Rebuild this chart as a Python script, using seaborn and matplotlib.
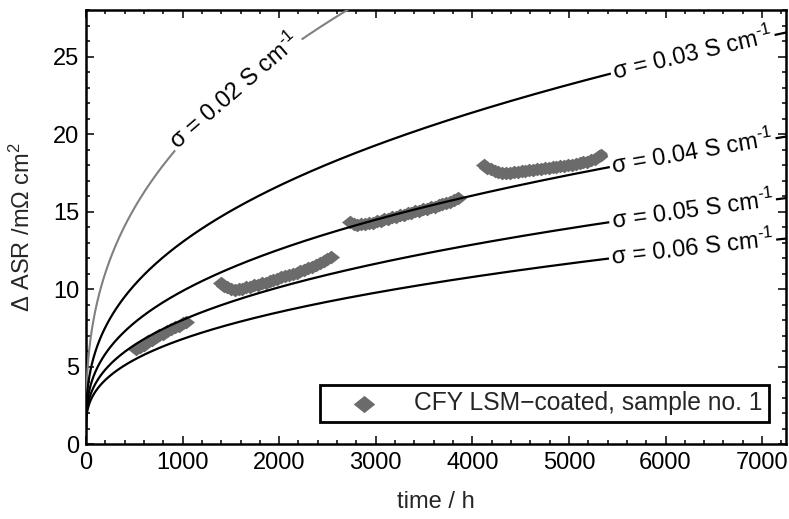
import numpy as np
import pandas as pd
import matplotlib
matplotlib.use("Agg")
import matplotlib.pyplot as plt
import seaborn as sns

# ---- measured area-specific resistance increase, four test campaigns ----
seg1_time = [520, 560, 600, 640, 680, 720, 760, 800, 840, 880, 920, 960, 1000, 1040]
seg1_asr = [6.10, 6.29, 6.40, 6.62, 6.71, 6.90, 7.05, 7.13, 7.31, 7.40, 7.57, 7.64, 7.82, 7.88]

seg2_time = [1400, 1430, 1460, 1500, 1540, 1580, 1620, 1660, 1700, 1740, 1780, 1820,
             1860, 1900, 1940, 1980, 2020, 2060, 2100, 2140, 2180, 2220, 2260, 2300,
             2340, 2380, 2420, 2460, 2500, 2540]
seg2_asr = [10.40, 10.22, 10.12, 9.98, 9.92, 9.99, 10.00, 10.12, 10.13, 10.24, 10.26, 10.38,
            10.41, 10.52, 10.57, 10.68, 10.75, 10.84, 10.90, 11.00, 11.06, 11.17, 11.24, 11.36,
            11.44, 11.58, 11.66, 11.82, 11.92, 12.10]

seg3_time = [2730, 2770, 2810, 2850, 2890, 2930, 2970, 3010, 3050, 3090, 3130, 3170,
             3210, 3250, 3290, 3330, 3370, 3410, 3450, 3490, 3530, 3570, 3610, 3650,
             3690, 3730, 3770, 3810, 3850]
seg3_asr = [14.32, 14.18, 14.15, 14.18, 14.19, 14.26, 14.27, 14.37, 14.39, 14.49, 14.53, 14.62,
            14.66, 14.77, 14.79, 14.90, 14.92, 15.02, 15.04, 15.14, 15.17, 15.28, 15.31, 15.42,
            15.46, 15.57, 15.62, 15.76, 15.85]

seg4_time = [4120, 4150, 4190, 4230, 4270, 4310, 4350, 4390, 4430, 4470, 4510, 4550,
             4590, 4630, 4670, 4710, 4750, 4790, 4830, 4870, 4910, 4950, 4990, 5030,
             5070, 5110, 5150, 5190, 5230, 5270, 5310, 5330]
seg4_asr = [18.00, 17.84, 17.73, 17.60, 17.57, 17.50, 17.51, 17.49, 17.55, 17.54, 17.62, 17.61,
            17.68, 17.69, 17.75, 17.76, 17.82, 17.83, 17.89, 17.89, 17.95, 17.95, 18.02, 18.03,
            18.10, 18.12, 18.20, 18.23, 18.33, 18.41, 18.56, 18.65]

sample_label = "CFY LSM\u2212coated, sample no. 1"

# ---- oxide-scale model: dASR = R0 + A * t**n / sigma**m ----
sigma_values = [0.02, 0.03, 0.04, 0.05, 0.06]
sigma_colors = ["#808080", "black", "black", "black", "black"]
label_times = [1540, 6280, 6280, 6280, 6280]
model_r0 = 1.0
model_a = 0.0212
model_n = 0.38
model_m = 1.06

x_ticks = [0, 1000, 2000, 3000, 4000, 5000, 6000, 7000]
y_ticks = [0, 5, 10, 15, 20, 25]
x_limits = (0, 7250)
y_limits = (0, 28)

sns.set_style("ticks")
plt.rcParams["font.family"] = ["Liberation Sans", "DejaVu Sans"]
plt.rcParams["mathtext.fontset"] = "custom"
plt.rcParams["mathtext.rm"] = "Liberation Sans"
plt.rcParams["mathtext.it"] = "Liberation Sans:italic"
plt.rcParams["mathtext.default"] = "regular"
plt.rcParams["axes.unicode_minus"] = True

FS = 17

fig = plt.figure(figsize=(7.89, 5.19), dpi=100)
ax = fig.add_axes([0.109, 0.1445, 0.8875, 0.836])
ax.set_xlim(*x_limits)
ax.set_ylim(*y_limits)

data = pd.DataFrame({
    "time": seg1_time + seg2_time + seg3_time + seg4_time,
    "asr": seg1_asr + seg2_asr + seg3_asr + seg4_asr,
})

diamond = [(-1.0, 0.0), (0.0, 0.8), (1.0, 0.0), (0.0, -0.8), (-1.0, 0.0)]
sns.scatterplot(data=data, x="time", y="asr", marker=diamond, s=150,
                color="#6b6b6b", linewidth=0, label=sample_label, ax=ax, zorder=2)


def model(t, sigma):
    return model_r0 + model_a * np.power(t, model_n) / sigma ** model_m


t_grid = np.linspace(0.0, 1.0, 3000) ** 2 * x_limits[1]
for sigma, col in zip(sigma_values, sigma_colors):
    curve = pd.DataFrame({"time": t_grid, "asr": model(t_grid, sigma)})
    curve = curve[curve["asr"] <= y_limits[1] + 1]
    sns.lineplot(data=curve, x="time", y="asr", color=col, lw=1.5 if col != "black" else 1.6,
                 estimator=None, sort=False, ax=ax, zorder=3, legend=False)

# inline curve labels, rotated along the local slope
fig.canvas.draw()
for sigma, col, tl in zip(sigma_values, sigma_colors, label_times):
    yl = model(tl, sigma)
    p1 = ax.transData.transform((tl - 60, model(tl - 60, sigma)))
    p2 = ax.transData.transform((tl + 60, model(tl + 60, sigma)))
    ang = np.degrees(np.arctan2(p2[1] - p1[1], p2[0] - p1[0]))
    ax.text(tl, yl, r"σ = %.2f S cm$^{\text{-}1}$" % sigma, fontsize=FS, rotation=ang,
            rotation_mode="anchor", ha="center", va="center", color="black", zorder=4,
            bbox=dict(facecolor="white", edgecolor="none", pad=1.5))

ax.set_xticks(x_ticks)
ax.set_yticks(y_ticks)
ax.set_xticks(np.arange(0, 7300, 200), minor=True)
ax.set_yticks(np.arange(0, 29, 1), minor=True)
ax.tick_params(which="both", direction="in", top=True, right=True, width=1.1,
               labelsize=FS, colors="black")
ax.tick_params(which="major", length=5.5)
ax.tick_params(which="minor", length=3)
ax.tick_params(axis="x", pad=6)
ax.tick_params(axis="y", pad=5)
for sp in ax.spines.values():
    sp.set_linewidth(1.8)
    sp.set_color("black")

ax.set_xlabel("time / h", fontsize=FS, labelpad=12)
ax.set_ylabel(r"Δ ASR /mΩ cm$^2$", fontsize=FS, labelpad=13)

leg = ax.legend(loc="lower right", bbox_to_anchor=(0.976, 0.0507), borderaxespad=0,
                fontsize=17.7, frameon=True, fancybox=False, framealpha=1,
                edgecolor="black", borderpad=0.27, handlelength=3.0,
                handletextpad=0.55, scatterpoints=1)
leg.get_frame().set_linewidth(2.0)
for h in leg.legend_handles:
    h.set_sizes([240])

fig.savefig("out.png", dpi=100)
